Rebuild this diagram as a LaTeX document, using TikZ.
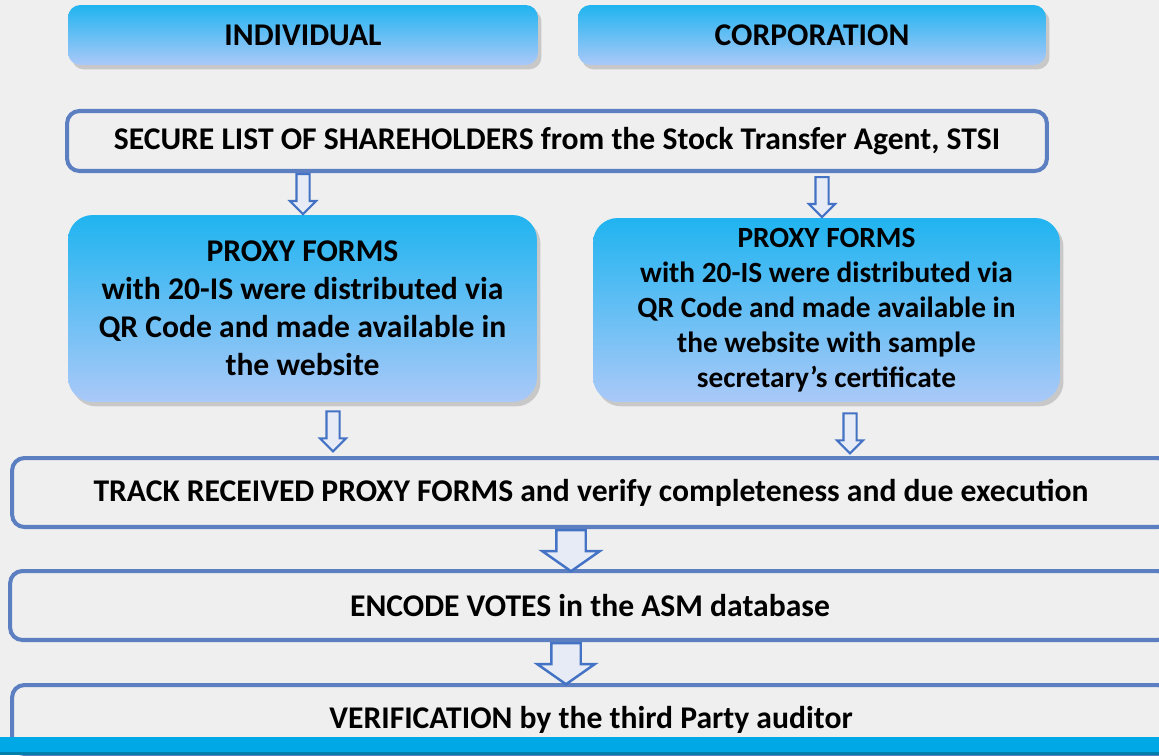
\documentclass[tikz,border=0pt]{standalone}
\usepackage{fontspec}
\setmainfont{Carlito}
\usetikzlibrary{calc,shapes.arrows,shadows}
\definecolor{paper}{RGB}{239,239,239}
\definecolor{boxline}{RGB}{91,127,193}
\definecolor{topblue}{RGB}{32,180,240}
\definecolor{lowblue}{RGB}{170,201,248}
\definecolor{arrowfill}{RGB}{230,235,246}
\definecolor{arrowline}{RGB}{68,114,196}
\definecolor{barblue}{RGB}{0,168,230}

\begin{document}
\begin{tikzpicture}[x=0.02cm,y=-0.02cm,
		headbox/.style={rounded corners=7pt,top color=topblue,bottom color=lowblue,drop shadow={opacity=0.35,shadow xshift=2pt,shadow yshift=-2.5pt},font=\fontsize{18}{21.6}\selectfont\bfseries,align=center,inner sep=0pt},
		stepbox/.style={draw=boxline,line width=2.3pt,rounded corners=7pt,fill=paper,font=\fontsize{18}{21}\selectfont\bfseries,inner sep=0pt},
		thinarrow/.style={single arrow,draw=arrowline,fill=arrowfill,line width=1.2pt,shape border rotate=270,inner sep=0.11cm,single arrow head extend=0.13cm,minimum height=0.8cm,anchor=tail},
		widearrow/.style={single arrow,draw=arrowline,fill=arrowfill,line width=1.4pt,shape border rotate=270,inner sep=0.27cm,single arrow head extend=0.28cm,minimum height=0.82cm,single arrow tip angle=110,anchor=tail}]
		\fill[paper] (0,0) rectangle (1159,755);
		\clip (0,0) rectangle (1159,755);
		\node (ind) at (303,35) [headbox,minimum width=9.4cm,minimum height=1.2cm] {INDIVIDUAL};
		\node (corp) at (812,35) [headbox,minimum width=9.36cm,minimum height=1.2cm] {CORPORATION};
		\node (sec) at (557,141) [stepbox,minimum width=19.6cm,minimum height=1.2cm] {SECURE LIST OF SHAREHOLDERS from the Stock Transfer Agent, STSI};
		\node (pl) at (302.5,308.5) [headbox,rounded corners=14pt,minimum width=9.38cm,minimum height=3.74cm] {PROXY FORMS\\with 20-IS were distributed via\\QR Code and made available in\\the website};
		\node (pr) at (826.5,310) [headbox,rounded corners=14pt,minimum width=9.34cm,minimum height=3.68cm,font=\fontsize{16.7}{20}\selectfont\bfseries] {PROXY FORMS\\with 20-IS were distributed via\\QR Code and made available in\\the website with sample\\secretary’s certificate};
		\node (trk) at (591,492.5) [stepbox,minimum width=23.16cm,minimum height=1.38cm] {TRACK RECEIVED PROXY FORMS and verify completeness and due execution};
		\node (enc) at (590,605.5) [stepbox,minimum width=23.2cm,minimum height=1.38cm] {ENCODE VOTES in the ASM database};
		\node (ver) at (591,719.5) [stepbox,minimum width=23.16cm,minimum height=1.38cm] {VERIFICATION by the third Party auditor};
		\node (a1) [thinarrow] at (sec.south -| 303,0) {};
		\node (a2) [thinarrow] at ($(sec.south -| 822,0) + (0,3)$) {};
		\node (a3) [thinarrow] at ($(pl.south -| 333,0) + (0,8)$) {};
		\node (a4) [thinarrow] at ($(pr.south -| 850,0) + (0,10)$) {};
		\node (a5) [widearrow] at (trk.south -| 571,0) {};
		\node (a6) [widearrow] at (enc.south -| 566,0) {};
		\fill[barblue] (0,737) rectangle (1159,755);
		\fill[barblue!75!black] (0,752) rectangle (1159,755);
	\end{tikzpicture}
\end{document}
